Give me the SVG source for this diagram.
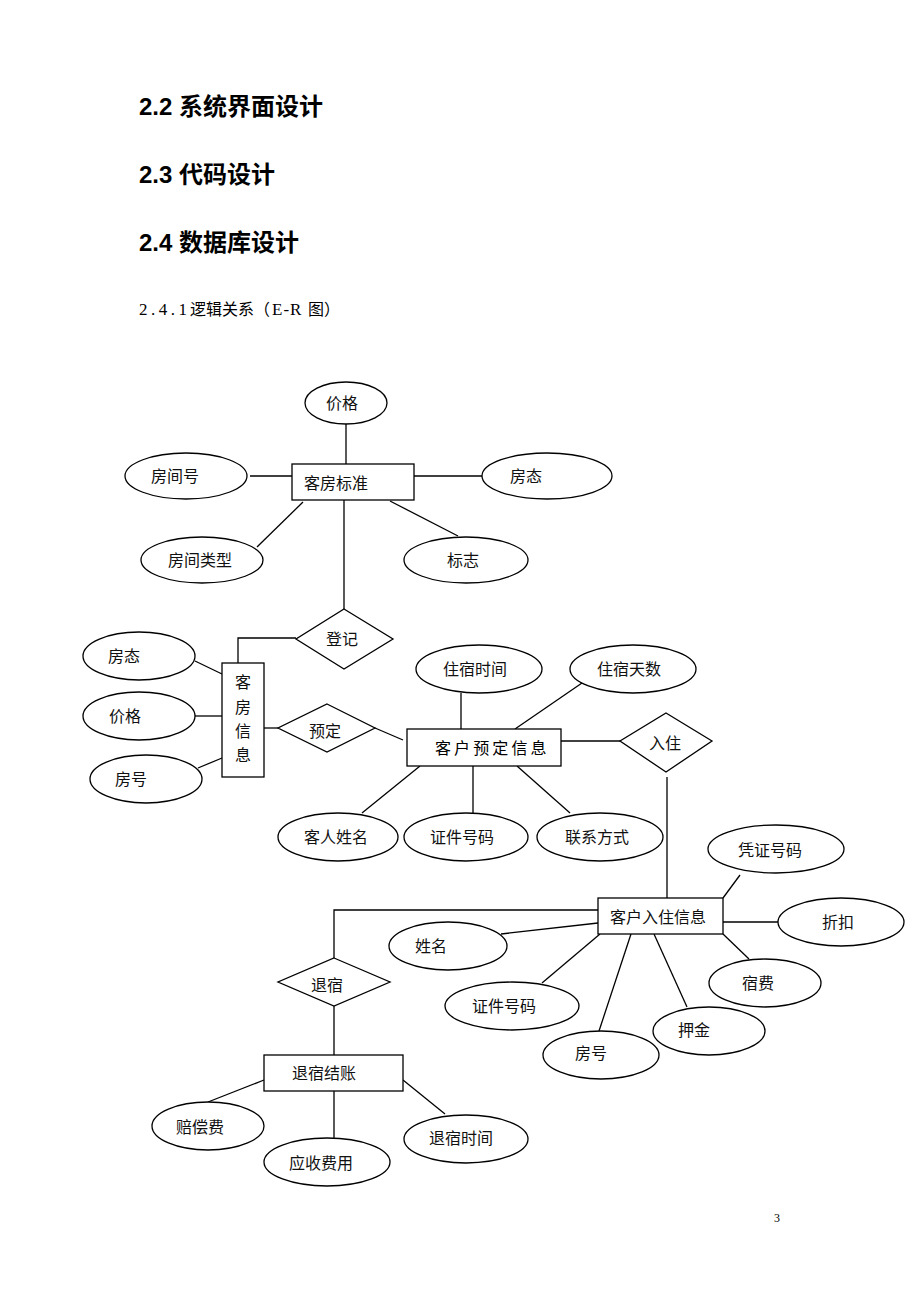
<svg xmlns="http://www.w3.org/2000/svg" width="920" height="1302" viewBox="0 0 920 1302">
<style>
.h{font-family:"Liberation Sans","Noto Sans CJK SC",sans-serif;font-size:24px;font-weight:bold;fill:#000}
.sub{font-family:"Liberation Serif","Noto Sans CJK SC",serif;font-size:17px;fill:#000}
.cj{font-family:"Noto Sans CJK SC",sans-serif;font-size:16px;fill:#000}
.t{font-family:"Noto Sans CJK SC",sans-serif;font-size:16px;fill:#111;text-anchor:middle}
.s{fill:#fff;stroke:#000;stroke-width:1.3}
.c line,.c polyline{stroke:#000;stroke-width:1.3;fill:none}
.pg{font-family:"Liberation Serif",serif;font-size:12px;fill:#000}
</style>
<rect width="920" height="1302" fill="#fff"/>
<g id="headings">
<text class="h" x="139" y="115">2.2 系统界面设计</text>
<text class="h" x="139" y="183">2.3 代码设计</text>
<text class="h" x="139" y="251">2.4 数据库设计</text>
<text class="sub" x="139" y="315" letter-spacing="3.5">2.4.1</text>
<text class="cj" x="190" y="315">逻辑关系（</text>
<text class="sub" x="272" y="315" letter-spacing="1">E-R</text>
<text class="cj" x="308" y="315">图）</text>
</g>
<g class="c" id="connectors">
<line x1="346" y1="424" x2="346" y2="464"/>
<line x1="250" y1="476" x2="292" y2="476"/>
<line x1="414" y1="476" x2="482" y2="476"/>
<line x1="257" y1="547" x2="303" y2="502"/>
<line x1="390" y1="501" x2="458" y2="536"/>
<line x1="344" y1="500" x2="344" y2="609"/>
<polyline points="296,638 238,638 238,663"/>
<line x1="195" y1="661" x2="222" y2="674"/>
<line x1="195" y1="716" x2="222" y2="716"/>
<line x1="198" y1="768" x2="222" y2="758"/>
<line x1="264" y1="728" x2="278" y2="728"/>
<line x1="375" y1="728" x2="403" y2="740"/>
<line x1="461" y1="693" x2="461" y2="729"/>
<line x1="582" y1="683" x2="515" y2="729"/>
<line x1="561" y1="741" x2="620" y2="741"/>
<line x1="420" y1="766" x2="362" y2="813"/>
<line x1="473" y1="766" x2="473" y2="813"/>
<line x1="517" y1="766" x2="570" y2="813"/>
<line x1="667" y1="777" x2="667" y2="898"/>
<line x1="740" y1="875" x2="723" y2="898"/>
<line x1="723" y1="922" x2="778" y2="922"/>
<line x1="723" y1="934" x2="749" y2="959"/>
<line x1="654" y1="934" x2="687" y2="1007"/>
<line x1="631" y1="934" x2="599" y2="1031"/>
<line x1="600" y1="934" x2="542" y2="983"/>
<line x1="501" y1="934" x2="598" y2="923"/>
<polyline points="598,910 334,910 334,958"/>
<line x1="334" y1="1006" x2="334" y2="1055"/>
<line x1="264" y1="1080" x2="208" y2="1102"/>
<line x1="334" y1="1091" x2="334" y2="1138"/>
<line x1="403" y1="1080" x2="445" y2="1114"/>
</g>
<g id="kefang-biaozhun"><rect class="s" x="292" y="464" width="122" height="36"/><text class="t" x="336" y="489">客房标准</text></g>
<g id="attr-jiage-1"><ellipse class="s" cx="346" cy="403" rx="41" ry="21"/><text class="t" x="342" y="409">价格</text></g>
<g id="attr-fangjianhao"><ellipse class="s" cx="186" cy="476" rx="61" ry="23"/><text class="t" x="175" y="482">房间号</text></g>
<g id="attr-fangtai-1"><ellipse class="s" cx="547" cy="476" rx="65" ry="23"/><text class="t" x="526" y="482">房态</text></g>
<g id="attr-fangjianleixing"><ellipse class="s" cx="202" cy="560" rx="61" ry="23"/><text class="t" x="200" y="566">房间类型</text></g>
<g id="attr-biaozhi"><ellipse class="s" cx="466" cy="560" rx="62" ry="23"/><text class="t" x="463" y="566">标志</text></g>
<g id="rel-dengji"><polygon class="s" points="344,609 393,639 344,669 296,639"/><text class="t" x="342" y="645">登记</text></g>
<g id="kefang-xinxi"><rect class="s" x="222" y="663" width="42" height="114"/>
<text class="t" x="243" y="688">客</text><text class="t" x="243" y="713">房</text><text class="t" x="243" y="737">信</text><text class="t" x="243" y="761">息</text></g>
<g id="attr-fangtai-2"><ellipse class="s" cx="139" cy="656" rx="56" ry="24"/><text class="t" x="124" y="662">房态</text></g>
<g id="attr-jiage-2"><ellipse class="s" cx="139" cy="716" rx="56" ry="24"/><text class="t" x="125" y="722">价格</text></g>
<g id="attr-fanghao-1"><ellipse class="s" cx="146" cy="779" rx="56" ry="24"/><text class="t" x="131" y="785">房号</text></g>
<g id="rel-yuding"><polygon class="s" points="327,704 375,728 327,752 278,728"/><text class="t" x="325" y="737">预定</text></g>
<g id="kehu-yuding-xinxi"><rect class="s" x="407" y="729" width="154" height="37"/><text class="cj" x="435" y="754" letter-spacing="3.1" fill="#111">客户预定信息</text></g>
<g id="attr-zhusu-shijian"><ellipse class="s" cx="479" cy="669" rx="63" ry="24"/><text class="t" x="475" y="675">住宿时间</text></g>
<g id="attr-zhusu-tianshu"><ellipse class="s" cx="633" cy="669" rx="63" ry="24"/><text class="t" x="629" y="675">住宿天数</text></g>
<g id="attr-keren-xingming"><ellipse class="s" cx="338" cy="837" rx="60" ry="24"/><text class="t" x="336" y="843">客人姓名</text></g>
<g id="attr-zhengjian-1"><ellipse class="s" cx="466" cy="837" rx="62" ry="24"/><text class="t" x="462" y="843">证件号码</text></g>
<g id="attr-lianxi"><ellipse class="s" cx="600" cy="837" rx="63" ry="24"/><text class="t" x="597" y="843">联系方式</text></g>
<g id="rel-ruzhu"><polygon class="s" points="666,713 712,741 666,772 620,741"/><text class="t" x="665" y="749">入住</text></g>
<g id="kehu-ruzhu-xinxi"><rect class="s" x="598" y="898" width="125" height="36"/><text class="t" x="658" y="923">客户入住信息</text></g>
<g id="attr-pingzheng"><ellipse class="s" cx="776" cy="849" rx="68" ry="24"/><text class="t" x="770" y="856">凭证号码</text></g>
<g id="attr-zhekou"><ellipse class="s" cx="841" cy="922" rx="63" ry="24"/><text class="t" x="838" y="928">折扣</text></g>
<g id="attr-sufei"><ellipse class="s" cx="765" cy="983" rx="56" ry="24"/><text class="t" x="758" y="989">宿费</text></g>
<g id="attr-yajin"><ellipse class="s" cx="709" cy="1031" rx="56" ry="24"/><text class="t" x="694" y="1036">押金</text></g>
<g id="attr-fanghao-2"><ellipse class="s" cx="601" cy="1055" rx="58" ry="24"/><text class="t" x="591" y="1059">房号</text></g>
<g id="attr-zhengjian-2"><ellipse class="s" cx="512" cy="1006" rx="67" ry="24"/><text class="t" x="504" y="1012">证件号码</text></g>
<g id="attr-xingming"><ellipse class="s" cx="448" cy="946" rx="59" ry="24"/><text class="t" x="431" y="952">姓名</text></g>
<g id="rel-tuisu"><polygon class="s" points="334,958 390,982 334,1006 278,982"/><text class="t" x="327" y="991">退宿</text></g>
<g id="tuisu-jiezhang"><rect class="s" x="264" y="1055" width="139" height="36"/><text class="t" x="324" y="1079">退宿结账</text></g>
<g id="attr-peichangfei"><ellipse class="s" cx="208" cy="1126" rx="56" ry="24"/><text class="t" x="200" y="1133">赔偿费</text></g>
<g id="attr-yingshou"><ellipse class="s" cx="327" cy="1162" rx="63" ry="24"/><text class="t" x="321" y="1169">应收费用</text></g>
<g id="attr-tuisu-shijian"><ellipse class="s" cx="466" cy="1139" rx="62" ry="24"/><text class="t" x="461" y="1144">退宿时间</text></g>
<text class="pg" x="774" y="1222">3</text>
</svg>
